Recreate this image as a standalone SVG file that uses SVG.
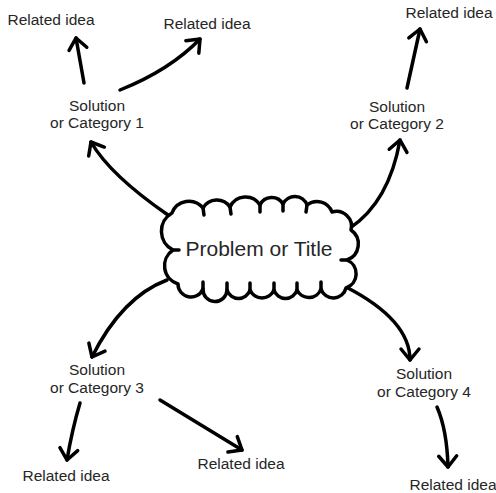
<svg xmlns="http://www.w3.org/2000/svg" width="496" height="493" viewBox="0 0 496 493">
<style>
  .lbl { font-family: "Liberation Sans", Arial, sans-serif; font-size: 15.5px; fill: #262626; text-anchor: middle; }
  .title { font-family: "Liberation Sans", Arial, sans-serif; font-size: 21px; fill: #262626; text-anchor: middle; }
  .con { fill: none; stroke: #000; stroke-width: 3.5; stroke-linecap: round; stroke-linejoin: round; }
  .cloud { fill: #fff; stroke: #000; stroke-width: 3.5; stroke-linejoin: round; stroke-linecap: round; }
</style>
<defs>
  <marker id="ah" markerUnits="userSpaceOnUse" markerWidth="26" markerHeight="26" refX="12" refY="10" orient="auto" overflow="visible">
    <path d="M1,1 L12,10 L1,19" fill="none" stroke="#000" stroke-width="3.5" stroke-linecap="round" stroke-linejoin="round"/>
  </marker>
</defs>
<rect width="496" height="493" fill="#fff"/>
<g id="connectors">
  <path class="con" marker-end="url(#ah)" d="M168,215 Q110,175 91,142"/>
  <path class="con" marker-end="url(#ah)" d="M84,83 L76,38"/>
  <path class="con" marker-end="url(#ah)" d="M120,90 Q170,70 200,39"/>
  <path class="con" marker-end="url(#ah)" d="M350,228 Q389,202 400,140"/>
  <path class="con" marker-end="url(#ah)" d="M407,88 L420,29"/>
  <path class="con" marker-end="url(#ah)" d="M167,280 Q122,297 92,357"/>
  <path class="con" marker-end="url(#ah)" d="M80,403 Q72,430 67,460"/>
  <path class="con" marker-end="url(#ah)" d="M160,400 L242,450"/>
  <path class="con" marker-end="url(#ah)" d="M346,287 Q410,320 410,360"/>
  <path class="con" marker-end="url(#ah)" d="M437,407 Q447,430 448,467"/>
</g>
<g id="problem">
  <path class="cloud" d="M172,213 A18,18 0 0 1 203,208 A16,16 0 0 1 230,207 A17,17 0 0 1 260,205 A13,13 0 0 1 283,204 A13,13 0 0 1 307,205 A16,16 0 0 1 332,212 A15,15 0 0 1 351,230 A17,17 0 0 1 347,260 A15,15 0 0 1 346,288 A13,13 0 0 1 321,289 A13,13 0 0 1 297,290 A12,12 0 0 1 274,290 A13,13 0 0 1 250,290 A12,12 0 0 1 227,290 A12,12 0 0 1 203,289 A13,13 0 0 1 178,284 A19,19 0 0 1 173,250 A21,21 0 0 1 172,213 Z"/>
  <path class="con" d="M203,208 l1,7 M230,207 l1,7 M260,205 l0,7 M283,204 l0,7 M307,205 l-1,7 M321,289 l0,-7 M297,290 l0,-7 M274,290 l0,-7 M250,290 l0,-7 M227,290 l0,-7 M203,289 l0,-7 M173,250 l6,0 M347,260 l-6,0"/>
  <text class="title" x="259" y="256">Problem or Title</text>
</g>
<g id="cat1">
  <text class="lbl" x="97" y="111">Solution</text>
  <text class="lbl" x="97" y="128">or Category 1</text>
</g>
<g id="cat2">
  <text class="lbl" x="397" y="112">Solution</text>
  <text class="lbl" x="397" y="129">or Category 2</text>
</g>
<g id="cat3">
  <text class="lbl" x="97" y="375">Solution</text>
  <text class="lbl" x="97" y="393">or Category 3</text>
</g>
<g id="cat4">
  <text class="lbl" x="424" y="379">Solution</text>
  <text class="lbl" x="424" y="397">or Category 4</text>
</g>
<g id="idea1a"><text class="lbl" x="51" y="25">Related idea</text></g>
<g id="idea1b"><text class="lbl" x="207" y="29">Related idea</text></g>
<g id="idea2a"><text class="lbl" x="449" y="18">Related idea</text></g>
<g id="idea3a"><text class="lbl" x="66" y="481">Related idea</text></g>
<g id="idea3b"><text class="lbl" x="241" y="469">Related idea</text></g>
<g id="idea4a"><text class="lbl" x="453" y="490">Related idea</text></g>
</svg>
